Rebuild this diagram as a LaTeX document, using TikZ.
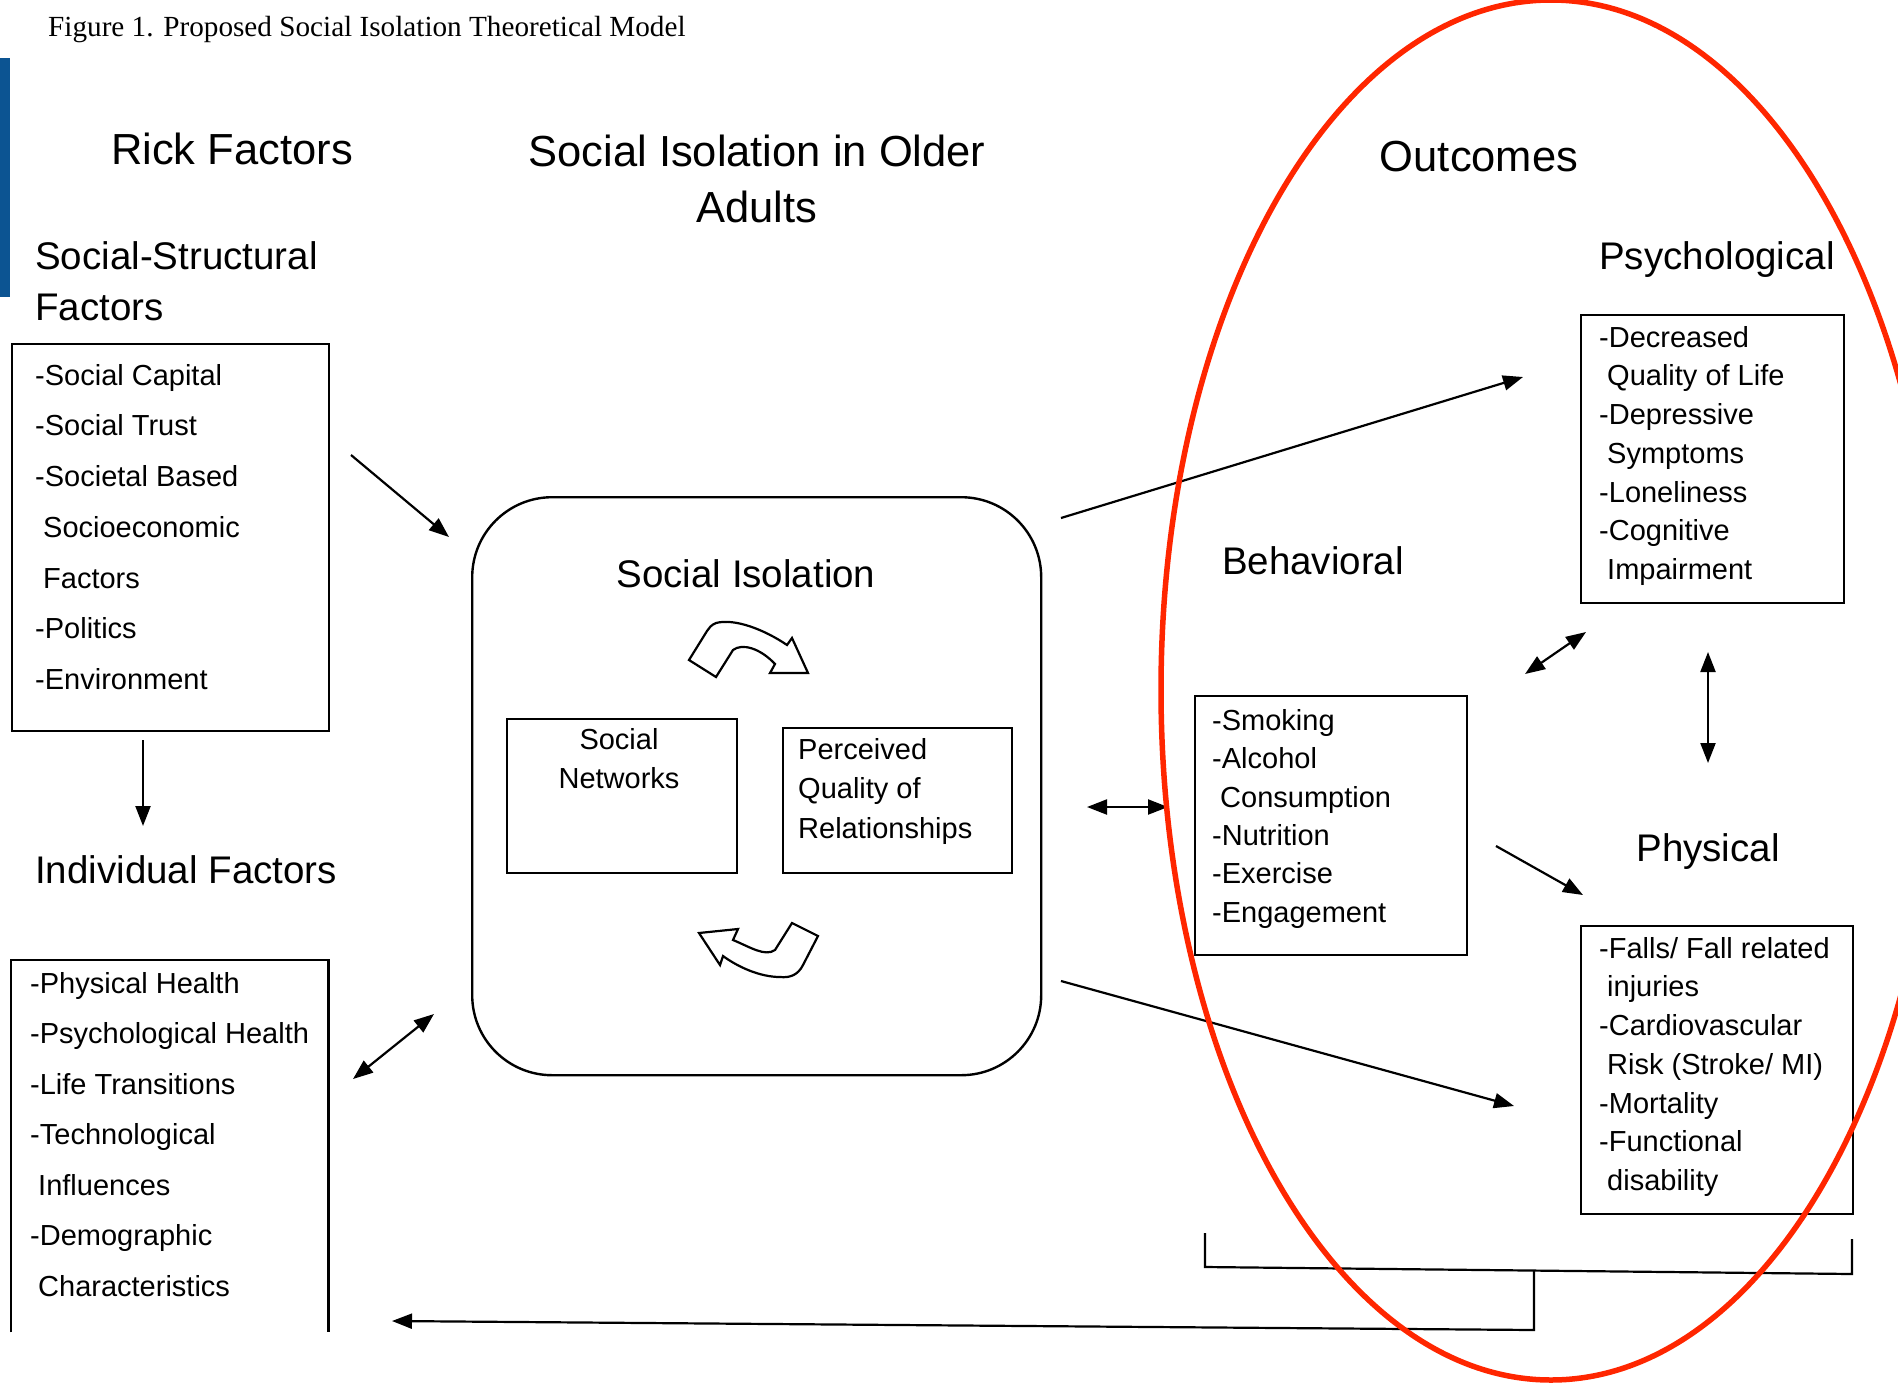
\documentclass[tikz,border=0pt]{standalone}
\usepackage{fontspec}
\setmainfont{Liberation Sans}
\newfontfamily\capfont{Liberation Serif}
\usetikzlibrary{arrows.meta}
\definecolor{barblue}{RGB}{12,84,146}
\definecolor{ovalred}{RGB}{255,38,0}
\tikzset{
  box/.style={draw, line width=2.4pt, inner sep=0pt, anchor=north west},
  ghost/.style={inner sep=0pt, anchor=north west},
  boxline/.style={line width=2.4pt},
  conn/.style={line width=2.2pt, -{Triangle[length=20pt,width=15pt]}},
  dconn/.style={line width=2.2pt, {Triangle[length=20pt,width=15pt]}-{Triangle[length=20pt,width=15pt]}},
  plainline/.style={line width=2.2pt},
  head/.style={font=\fontsize{43.5}{56}\selectfont, inner sep=0pt},
  subhead/.style={font=\fontsize{38.5}{51}\selectfont, inner sep=0pt},
  listA/.style={font=\fontsize{29}{50.7}\selectfont, align=left, inner sep=0pt, anchor=north west},
  listB/.style={font=\fontsize{29}{38.7}\selectfont, align=left, inner sep=0pt, anchor=north west},
  blockarrow/.style={draw, line width=2.2pt, line join=miter, fill=white},
  oval/.style={draw=ovalred, line width=5.5pt},
}
\begin{document}
\begin{tikzpicture}[x=1pt,y=-1pt]
\useasboundingbox (0,0) rectangle (1898,1382);
\fill[white] (0,0) rectangle (1898,1382);

% caption and side bar
\node[anchor=base west, inner sep=0pt, font=\capfont\fontsize{29.2}{31}\selectfont] (caption) at (48,36) {Figure 1. Proposed Social Isolation Theoretical Model};
\fill[barblue] (0,58) rectangle (10,297);

% headings
\node[head, anchor=base] (rick) at (232,164) {Rick Factors};
\node[head, anchor=north, align=center] (sititle) at (757,135) {Social Isolation in Older\\Adults};
\node[head, anchor=base] (outcomes) at (1479,171) {Outcomes};
\node[subhead, anchor=north west, align=left] (ssfact) at (35,241) {Social-Structural\\Factors};
\node[subhead, anchor=base west] (indfact) at (35,883) {Individual Factors};
\node[subhead, anchor=base] (psyhead) at (1717,269) {Psychological};
\node[subhead, anchor=base] (behhead) at (1313,574) {Behavioral};
\node[subhead, anchor=base] (phyhead) at (1708,861) {Physical};

% social-structural box
\node[box, minimum width=317pt, minimum height=387pt] (ss) at (11,343) {};
\node[listA] (sstxt) at (35,364) {-Social Capital\\-Social Trust\\-Societal Based\\\hspace*{8pt}Socioeconomic\\\hspace*{8pt}Factors\\-Politics\\-Environment};

% individual box (open at the bottom)
\node[ghost, minimum width=317pt, minimum height=372pt] (ind) at (11,960) {};
\draw[boxline] (ind.south west) -- (ind.north west) -- (ind.north east) -- (ind.south east);
\node[listA, font=\fontsize{29}{50.5}\selectfont] (indtxt) at (30,972) {-Physical Health\\-Psychological Health\\-Life Transitions\\-Technological\\\hspace*{8pt}Influences\\-Demographic\\\hspace*{8pt}Characteristics};

% social isolation box
\node[box, rounded corners=80pt, minimum width=569pt, minimum height=578pt] (si) at (471,496) {};
\node[subhead, anchor=base] (sihead) at (746,587) {Social Isolation};
\node[box, minimum width=230pt, minimum height=154pt] (sn) at (506,718) {};
\node[listB, align=center, anchor=north, font=\fontsize{29}{39.5}\selectfont] (sntxt) at (619,728) {Social\\Networks};
\node[box, minimum width=229pt, minimum height=145pt] (pq) at (782,727) {};
\node[listB, font=\fontsize{29}{39.5}\selectfont] (pqtxt) at (798,738) {Perceived\\Quality of\\Relationships};

% block arrows
\draw[blockarrow] (689,660) -- (716,677) -- (733,650)
  .. controls (742,643) and (760,648) .. (775,664) -- (770,673) -- (808,673) -- (792,638) -- (787,645)
  .. controls (765,630) and (735,618) .. (716,623)
  .. controls (711,625) and (709,628) .. (707,631) -- cycle;
\draw[blockarrow] (699,933) -- (738,929) -- (733,940)
  .. controls (750,947) and (765,957) .. (775,950) -- (792,923) -- (818,936) -- (803,965)
  .. controls (798,975) and (790,978) .. (780,977)
  .. controls (760,977) and (738,967) .. (723,956) -- (720,965) -- cycle;

% behavioral box
\node[box, minimum width=272pt, minimum height=259pt] (beh) at (1194,695) {};
\node[listB, font=\fontsize{29}{38.4}\selectfont] (behtxt) at (1212,709) {-Smoking\\-Alcohol\\\hspace*{8pt}Consumption\\-Nutrition\\-Exercise\\-Engagement};

% psychological box
\node[box, minimum width=263pt, minimum height=288pt] (psy) at (1580,314) {};
\node[listB] (psytxt) at (1599,326) {-Decreased\\\hspace*{8pt}Quality of Life\\-Depressive\\\hspace*{8pt}Symptoms\\-Loneliness\\-Cognitive\\\hspace*{8pt}Impairment};

% physical box
\node[box, minimum width=272pt, minimum height=288pt] (phy) at (1580,925) {};
\node[listB] (phytxt) at (1599,937) {-Falls/ Fall related\\\hspace*{8pt}injuries\\-Cardiovascular\\\hspace*{8pt}Risk (Stroke/ MI)\\-Mortality\\-Functional\\\hspace*{8pt}disability};

% connector end points
\coordinate (c1a) at (351,455);   \coordinate (c1b) at (449,537);
\coordinate (c2a) at (143,740);   \coordinate (c2b) at (143,826);
\coordinate (c3a) at (353,1079);  \coordinate (c3b) at (434,1014);
\coordinate (c4a) at (1061,518);  \coordinate (c4b) at (1523,377);
\coordinate (c5a) at (1061,981);  \coordinate (c5b) at (1514,1106);
\coordinate (c6a) at (1087,807);  \coordinate (c6b) at (1168,807);
\coordinate (c7a) at (1525,674);  \coordinate (c7b) at (1586,632);
\coordinate (c8a) at (1708,652);  \coordinate (c8b) at (1708,763);
\coordinate (c9a) at (1496,846);  \coordinate (c9b) at (1583,895);
\coordinate (brl) at (1205,1233); \coordinate (brlb) at (1205,1267);
\coordinate (brr) at (1852,1239); \coordinate (brrb) at (1852,1274);
\coordinate (stem) at (1534,1271); \coordinate (stemb) at (1534,1330);
\coordinate (back) at (392,1321);

\draw[conn] (c1a) -- (c1b);
\draw[conn] (c2a) -- (c2b);
\draw[dconn] (c3a) -- (c3b);
\draw[conn] (c4a) -- (c4b);
\draw[conn] (c5a) -- (c5b);
\draw[dconn] (c6a) -- (c6b);
\draw[dconn] (c7a) -- (c7b);
\draw[dconn] (c8a) -- (c8b);
\draw[conn] (c9a) -- (c9b);

% bracket and feedback arrow
\draw[plainline] (brl) -- (brlb) -- (brrb) -- (brr);
\draw[conn] (stem) -- (stemb) -- (back);

% red oval
\draw[oval] (1551,690) ellipse [x radius=390pt, y radius=690pt];
\end{tikzpicture}
\end{document}
